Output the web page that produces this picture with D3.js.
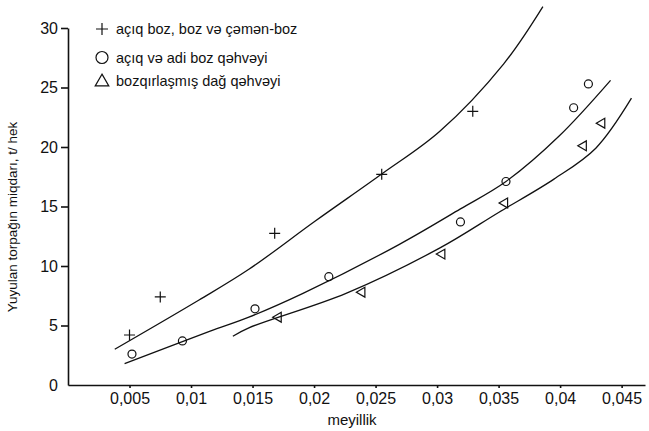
<!DOCTYPE html>
<head>
  <meta charset="utf-8">
  <script src="https://d3js.org/d3.v7.min.js"></script>
  <style>
    body {
        margin: 0;
        background: #fff;
        font-family: "Liberation Sans", Arial, sans-serif;
    }
    text { fill: #111; }
    .axis path,
    .axis line {
        fill: none;
        stroke: #111;
        stroke-width: 1.6px;
    }
    .axis text { font-size: 16px; font-family: "Liberation Sans", Arial, sans-serif; }
    .curve { fill: none; stroke: #111; stroke-width: 1.3px; }
    .mark { fill: none; stroke: #111; stroke-width: 1.2px; }
  </style>
</head>
<body>
  <script>

    // measured points
    var plusX = [0.005, 0.0075, 0.0168, 0.0255, 0.0329];
    var plusY = [4.2, 7.4, 12.75, 17.7, 23.0];

    var circleX = [0.0052, 0.0093, 0.0152, 0.0212, 0.0319, 0.0356, 0.0411, 0.0423];
    var circleY = [2.6, 3.7, 6.4, 9.1, 13.7, 17.1, 23.3, 25.3];

    var triX = [0.0171, 0.0239, 0.0304, 0.0355, 0.0419, 0.0434];
    var triY = [5.7, 7.8, 11.0, 15.3, 20.1, 22.0];

    // trend curves
    var curve1X = [0.0038, 0.01065, 0.0147, 0.0201, 0.0255, 0.0302, 0.0354, 0.0386];
    var curve1Y = [3.0, 7.14, 9.72, 13.78, 17.73, 21.3, 26.97, 31.8];

    var curve2X = [0.0046, 0.0115, 0.0147, 0.0191, 0.0269, 0.0319, 0.0356, 0.0399, 0.0441];
    var curve2Y = [1.8, 4.5, 5.7, 7.7, 11.8, 14.8, 17.1, 20.9, 25.6];

    var curve3X = [0.0134, 0.0147, 0.0226, 0.0302, 0.0350, 0.0395, 0.0429, 0.0458];
    var curve3Y = [4.1, 4.8, 7.7, 11.5, 14.5, 17.3, 19.9, 24.1];

    var seriesNames = ["açıq boz, boz və çəmən-boz", "açıq və adi boz qəhvəyi", "bozqırlaşmış dağ qəhvəyi"];

    var yTicks = [0, 5, 10, 15, 20, 25, 30];
    var xTicks = [0.005, 0.01, 0.015, 0.02, 0.025, 0.03, 0.035, 0.04, 0.045];
    var xTickLabels = ["0,005", "0,01", "0,015", "0,02", "0,025", "0,03", "0,035", "0,04", "0,045"];

    var margin = {top: 28, right: 4, bottom: 46, left: 68},
        width = 649 - margin.left - margin.right,
        height = 431 - margin.top - margin.bottom;

    var svg = d3.select("body").append("svg")
        .attr("width", 649)
        .attr("height", 431);

    var g = svg.append("g")
        .attr("transform", "translate(" + margin.left + "," + margin.top + ")");

    var x = d3.scaleLinear().domain([0, 0.0469]).range([0, width]);
    var y = d3.scaleLinear().domain([0, 30]).range([height, 0]);

    var xAxis = d3.axisBottom(x)
        .tickValues(xTicks)
        .tickFormat((d, i) => xTickLabels[i])
        .tickSize(3).tickSizeOuter(0).tickPadding(5);
    var yAxis = d3.axisLeft(y)
        .tickValues(yTicks)
        .tickSize(7).tickSizeOuter(0).tickPadding(3);

    g.append("g")
        .attr("class", "x axis")
        .attr("transform", "translate(0," + height + ")")
        .call(xAxis);
    g.append("g")
        .attr("class", "y axis")
        .call(yAxis);
    g.select(".y.axis").selectAll(".tick")
        .filter(d => d === 0).select("line").remove();

    // axis titles
    svg.append("text")
        .attr("x", 352).attr("y", 425)
        .attr("text-anchor", "middle")
        .style("font-size", "15px")
        .text("meyillik");
    svg.append("text")
        .attr("transform", "translate(17,217) rotate(-90)")
        .attr("text-anchor", "middle")
        .style("font-size", "13.5px")
        .text("Yuyulan torpağın miqdarı, t/ hek");

    // curves
    var line = d3.line()
        .x(d => x(d[0]))
        .y(d => y(d[1]))
        .curve(d3.curveCatmullRom.alpha(0.5));

    [[curve1X, curve1Y], [curve2X, curve2Y], [curve3X, curve3Y]].forEach(c => {
        g.append("path")
            .attr("class", "curve")
            .attr("d", line(d3.zip(c[0], c[1])));
    });

    // markers
    var plusPath = "M-5.5,0H5.5M0,-5.5V5.5";
    var triPath = d3.symbol().type(d3.symbolTriangle).size(42)();

    g.selectAll(".plus")
        .data(d3.zip(plusX, plusY))
        .enter().append("path")
        .attr("class", "mark plus")
        .attr("d", plusPath)
        .attr("transform", d => "translate(" + x(d[0]) + "," + y(d[1]) + ")");

    g.selectAll(".circ")
        .data(d3.zip(circleX, circleY))
        .enter().append("circle")
        .attr("class", "mark circ")
        .attr("r", 4)
        .attr("cx", d => x(d[0]))
        .attr("cy", d => y(d[1]));

    g.selectAll(".tri")
        .data(d3.zip(triX, triY))
        .enter().append("path")
        .attr("class", "mark tri")
        .attr("d", triPath)
        .attr("transform", d => "translate(" + x(d[0]) + "," + y(d[1]) + ") rotate(-90)");

    // legend
    var legendRows = [29, 57.5, 81];
    var legend = svg.append("g");
    legend.append("path")
        .attr("class", "mark")
        .attr("d", "M-6,0H6M0,-6V6")
        .attr("transform", "translate(102," + legendRows[0] + ")");
    legend.append("circle")
        .attr("class", "mark")
        .attr("cx", 102).attr("cy", legendRows[1]).attr("r", 6);
    legend.append("path")
        .attr("class", "mark")
        .attr("d", d3.symbol().type(d3.symbolTriangle).size(80)())
        .attr("transform", "translate(102," + (legendRows[2] + 1) + ")");

    legend.selectAll(".ltext")
        .data(seriesNames)
        .enter().append("text")
        .attr("class", "ltext")
        .attr("x", 116)
        .attr("y", (d, i) => legendRows[i] + 5)
        .style("font-size", "14.5px")
        .text(d => d);

  </script>
</body>
